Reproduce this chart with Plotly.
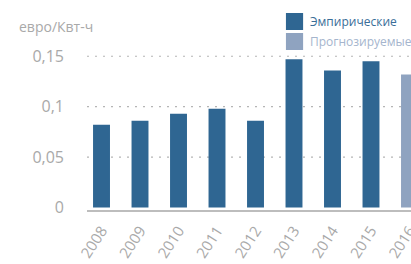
import plotly.graph_objects as go

years = ["2008", "2009", "2010", "2011", "2012", "2013", "2014", "2015", "2016"]
empirical_years = years[:8]
empirical_values = [0.082, 0.086, 0.093, 0.098, 0.086, 0.147, 0.136, 0.145]
forecast_years = years[8:]
forecast_values = [0.132]
y_tick_values = [0, 0.05, 0.1, 0.15]
y_tick_labels = ["0", "0,05", "0,1", "0,15"]
grid_values = [0.05, 0.1, 0.15]
legend_labels = ["Эмпирические", "Прогнозируемые"]

DARK = "#2F6692"
LIGHT = "#8FA3C0"
GRAY = "#A9A9A9"
FONT = "Open Sans"

fig = go.Figure()
fig.add_trace(go.Bar(
    x=empirical_years, y=empirical_values, width=0.44,
    marker=dict(color=DARK, line=dict(width=0)),
    name=legend_labels[0], showlegend=False,
))
fig.add_trace(go.Bar(
    x=forecast_years, y=forecast_values, width=0.44,
    marker=dict(color=LIGHT, line=dict(width=0)),
    name=legend_labels[1], showlegend=False,
))

for g in grid_values:
    fig.add_shape(type="line", xref="paper", yref="y", x0=0, x1=1, y0=g, y1=g,
                  line=dict(color="#B5B5B5", width=1.2, dash="2px,6px"), layer="below")

# manual legend (swatches + labels)
legend_items = [(legend_labels[0], DARK, "#3A6E98", 0.985), (legend_labels[1], LIGHT, "#A5B5CD", 0.885)]
for label, sw, tc, ytop in legend_items:
    fig.add_shape(type="rect", xref="paper", yref="paper", x0=0.614, x1=0.667,
                  y0=ytop - 0.085, y1=ytop, fillcolor=sw, line=dict(width=0))
    fig.add_annotation(text=label, xref="paper", yref="paper", x=0.683, y=ytop - 0.0425,
                       xanchor="left", yanchor="middle", showarrow=False,
                       font=dict(family=FONT, size=12, color=tc))

fig.add_annotation(text="евро/Квт-ч", xref="paper", yref="paper",
                   x=-0.216, y=0.915, xanchor="left", yanchor="middle", showarrow=False,
                   font=dict(family=FONT, size=14, color=GRAY))

fig.update_layout(
    width=411, height=264,
    margin=dict(l=87, r=0, t=10, b=54, autoexpand=False),
    paper_bgcolor="white", plot_bgcolor="white",
    barmode="overlay",
    font=dict(family=FONT, color=GRAY),
    showlegend=False,
)
fig.update_xaxes(
    type="category", categoryorder="array", categoryarray=years,
    range=[-0.377, 8.039], showgrid=False, zeroline=False,
    showline=True, linecolor="#BDBDBD", linewidth=2,
    tickangle=-57, tickfont=dict(family=FONT, size=15, color=GRAY),
    ticks="", automargin=False, ticklabelstandoff=4,
)
fig.update_yaxes(
    range=[-0.0025, 0.1959], tickmode="array", tickvals=y_tick_values, ticktext=y_tick_labels,
    showgrid=False, zeroline=False, showline=False, ticks="",
    tickfont=dict(family=FONT, size=16, color=GRAY),
    ticklabelstandoff=22, automargin=False,
)

fig.write_html("out.html", config={"displayModeBar": False},
               post_script="document.body.style.margin='0';document.body.style.overflow='hidden';")
